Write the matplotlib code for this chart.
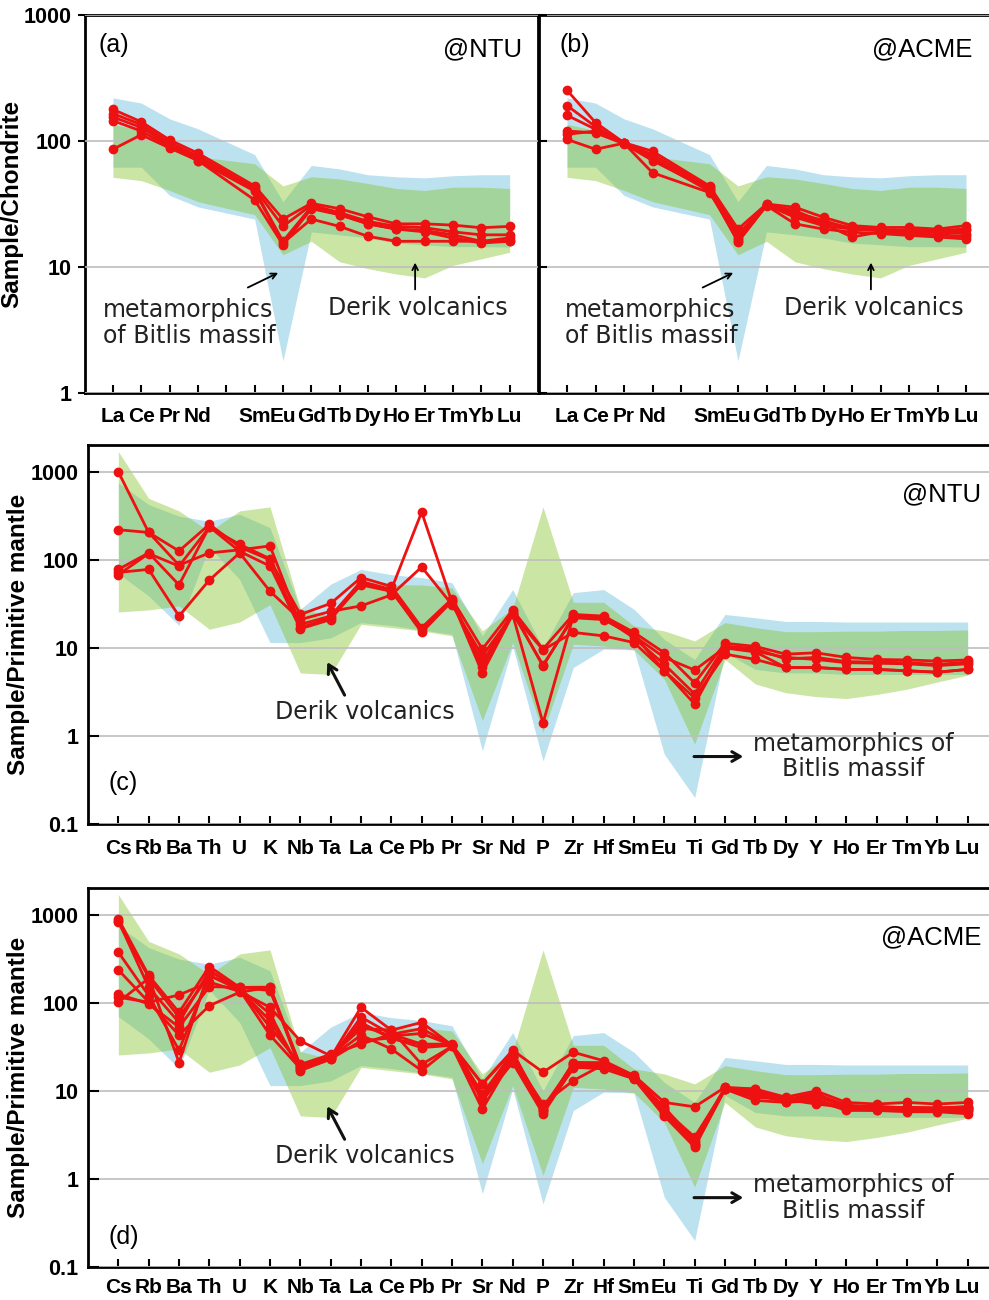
import numpy as np
import matplotlib
matplotlib.use('Agg')
import matplotlib.pyplot as plt
from matplotlib.ticker import FixedLocator, FixedFormatter, NullLocator

plt.rcParams['font.family'] = ['Liberation Sans', 'DejaVu Sans']

# --- REE (chondrite normalised) ---
ree = ['La', 'Ce', 'Pr', 'Nd', 'Pm', 'Sm', 'Eu', 'Gd', 'Tb', 'Dy', 'Ho', 'Er', 'Tm', 'Yb', 'Lu']
ree_labels = ['La', 'Ce', 'Pr', 'Nd', '', 'Sm', 'Eu', 'Gd', 'Tb', 'Dy', 'Ho', 'Er', 'Tm', 'Yb', 'Lu']
ree_used = ['La', 'Ce', 'Pr', 'Nd', 'Sm', 'Eu', 'Gd', 'Tb', 'Dy', 'Ho', 'Er', 'Tm', 'Yb', 'Lu']

bitlis_ree_hi = [220, 200, 150, 125, 78, 33, 64, 60, 54, 52, 51, 53, 54, 54]
bitlis_ree_lo = [62, 62, 37, 30, 24, 1.8, 19, 18, 17, 15.5, 15, 14.5, 14.5, 14.4]
derik_ree_hi = [136, 121, 91, 75, 66, 44, 52, 50, 46, 42, 40.5, 43, 43, 42]
derik_ree_lo = [51.5, 48.5, 40.5, 33, 26, 12.5, 16, 11, 9.7, 8.8, 8.2, 10.3, 11.6, 13.1]

ntu_ree = [
    [178, 142, 102, 80, 44, 24, 32, 29, 25, 22, 22, 21.5, 20.5, 21],
    [165, 135, 97, 76, 42, 21, 31, 27, 23, 21, 20.5, 19, 18, 18],
    [155, 128, 93, 73, 41, 16, 30, 26, 22, 20, 19.5, 18, 16, 17],
    [145, 120, 90, 70, 34, 15, 29, 26, 22, 20, 19, 17, 15.5, 16],
    [86, 112, 88, 70, 40, 15.5, 24, 21, 17.5, 16, 16, 16, 16, 16],
]
acme_ree = [
    [253, 140, 97, 83, 44, 20, 31.6, 29.8, 24.8, 21.3, 20.6, 20.6, 20, 21.3],
    [191, 130, 96, 78, 43, 18.3, 31, 27, 23.4, 20, 19.5, 19.5, 19, 19.5],
    [160, 124, 96, 74, 41.5, 16.7, 31, 24.8, 21.3, 20, 19.5, 19, 18.9, 18.4],
    [120, 116, 95, 70, 41, 15.8, 30.7, 22, 20, 18.9, 18.4, 17.8, 17.3, 16.7],
    [113, 120, 96, 72, 40, 16, 31, 26, 22, 17.3, 19, 18.5, 18, 17.5],
    [103, 86, 96, 56, 39, 17, 31.5, 28, 22.5, 20.5, 19.8, 19.5, 19.5, 20],
]

# --- Spider (primitive mantle normalised) ---
spider = ['Cs', 'Rb', 'Ba', 'Th', 'U', 'K', 'Nb', 'Ta', 'La', 'Ce', 'Pb', 'Pr', 'Sr', 'Nd', 'P',
          'Zr', 'Hf', 'Sm', 'Eu', 'Ti', 'Gd', 'Tb', 'Dy', 'Y', 'Ho', 'Er', 'Tm', 'Yb', 'Lu']

bitlis_pm_hi = [750, 425, 314, 275, 330, 232, 27.5, 53, 78, 68, 63, 55, 13.7, 46, 10,
                42.5, 46, 27.5, 12.5, 7.4, 24, 22, 20, 20, 19.7, 19.7, 19.7, 19.7, 19.7]
bitlis_pm_lo = [70, 39, 18, 140, 60, 11.5, 11.5, 13, 19.4, 18, 16, 14.3, 0.68, 10.5, 0.52,
                6.0, 9.7, 9.5, 0.62, 0.2, 8.9, 5.7, 5.2, 5.2, 5.0, 5.0, 5.0, 5.0, 5.0]
derik_pm_hi = [1700, 500, 360, 210, 360, 400, 28, 23, 57, 52, 52, 48, 15.6, 28, 400,
               33, 33, 17.8, 15.6, 12, 19.4, 17, 15.3, 15.3, 15.5, 15.5, 15.8, 15.8, 16]
derik_pm_lo = [25.6, 27, 30, 16.3, 19.7, 31, 5.2, 5.0, 18.5, 17, 15.6, 13.7, 1.49, 11.5, 1.1,
               11, 10.5, 9.5, 4.4, 0.81, 7.4, 3.9, 3.1, 2.8, 2.66, 2.96, 3.4, 4.1, 4.9]

ntu_pm = [
    [1000, 205, 126, 253, 140, 100, 24, 32, 63, 50, 17, 36, 9.7, 27, 9.7,
     24, 23, 15, 8.8, 4.0, 11.3, 10.4, 8.5, 8.8, 7.8, 7.4, 7.3, 7.1, 7.3],
    [220, 205, 87, 120, 130, 144, 18.5, 23, 57, 46, 349, 33, 6.8, 25, 6.4,
     22, 21, 13.7, 7.8, 5.6, 10.1, 9.2, 7.8, 7.4, 6.8, 6.7, 6.6, 6.3, 6.6],
    [78, 120, 52, 238, 125, 85, 16.5, 21, 55, 45, 15, 34, 5.2, 24, 1.4,
     23, 22, 14, 5.5, 2.3, 10, 9, 6.0, 6.0, 5.7, 5.7, 5.5, 5.3, 5.7],
    [72, 78, 23, 59, 120, 44, 21, 26, 30, 40, 83, 31, 8.1, 24, 9.5,
     15, 13.7, 11.5, 5.5, 2.7, 8.5, 7.4, 6.0, 6.0, 5.7, 5.7, 5.5, 5.3, 5.7],
    [68, 118, 85, 235, 150, 103, 17, 22, 52, 44, 16, 35, 6.0, 26, 6.2,
     23, 22, 13, 6.5, 3.0, 10.5, 9.8, 7.5, 7.8, 7.0, 6.9, 6.8, 6.5, 6.9],
]
acme_pm = [
    [900, 205, 78, 259, 150, 151, 19.4, 24, 89, 49, 60, 33, 12, 29, 16.3,
     27.5, 22, 15, 7.4, 6.6, 11, 10.5, 8.5, 10, 7.4, 7.1, 7.4, 7.1, 7.4],
    [826, 195, 21, 233, 145, 75, 17, 23, 69, 44, 51, 33, 9.2, 24, 6.0,
     21, 20.3, 14, 6.0, 2.5, 10.5, 9.2, 7.4, 8.9, 6.5, 6.5, 6.5, 6.4, 6.6],
    [377, 121, 29, 205, 140, 63, 18, 25, 60, 39, 34, 34, 7.8, 21, 5.5,
     18.6, 17.8, 13.7, 5.2, 2.3, 10.5, 7.8, 7.4, 7.8, 6.0, 6.0, 5.8, 5.8, 5.5],
    [237, 102, 123, 172, 135, 89, 37, 25, 51, 49, 20, 32, 6.2, 24, 7.1,
     13.1, 20, 14, 6.0, 3.0, 10.5, 8.5, 8.0, 7.1, 6.5, 6.5, 6.5, 6.4, 6.6],
    [126, 97.5, 53, 153, 150, 138, 19, 24, 43, 30, 17, 32, 7.8, 24, 6.0,
     18, 20, 14, 5.5, 2.4, 10.5, 9.0, 7.8, 8.5, 6.8, 6.7, 6.4, 6.2, 6.4],
    [116, 102, 43, 93, 132, 151, 17.5, 23, 37, 40, 31, 33, 9.2, 27, 6.5,
     20, 19, 14.5, 6.5, 2.6, 11, 9.5, 7.6, 8.0, 6.2, 6.2, 6.2, 6.0, 6.1],
    [102, 190, 69, 205, 145, 53, 20, 26, 34, 44, 34, 33, 12, 28, 5.8,
     21, 21, 14, 6.4, 2.8, 10.8, 9.8, 7.6, 9.2, 6.9, 6.4, 6.2, 6.1, 6.2],
    [860, 150, 60, 233, 140, 43, 18, 24, 55, 42, 45, 33, 8.5, 25, 6.2,
     19.5, 20, 14.2, 5.8, 2.4, 10.7, 10.5, 7.9, 9.5, 6.3, 6.0, 6.0, 6.0, 5.9],
]

BLUE = '#bde2ef'
GREEN = (125 / 255, 192 / 255, 30 / 255, 0.4)
RED = '#ee1111'
GRID = '#bdbdbd'

W, H = 989, 1300
fig = plt.figure(figsize=(W / 100, H / 100), dpi=100)


def rect(left, top, right, bottom):
    return [left / W, 1 - bottom / H, (right - left) / W, (bottom - top) / H]


def draw_panel(ax, x, bands, samples, names, labels, ylim, yticks, ytlabels):
    b_lo, b_hi, g_lo, g_hi = bands
    ax.fill_between(x, b_lo, b_hi, color=BLUE, lw=0, zorder=1)
    ax.fill_between(x, g_lo, g_hi, color=GREEN, lw=0, zorder=1.2)
    for s in samples:
        ax.plot(x, s, color=RED, lw=2.0, marker='o', ms=6, zorder=3)
    ax.set_yscale('log')
    ax.set_ylim(*ylim)
    ax.set_xlim(-1, len(names))
    ax.yaxis.set_major_locator(FixedLocator(yticks))
    ax.yaxis.set_major_formatter(FixedFormatter(ytlabels))
    ax.yaxis.set_minor_locator(NullLocator())
    ax.set_xticks(range(len(names)))
    ax.set_xticklabels(labels, fontweight='bold', fontsize=15)
    ax.set_axisbelow(False)
    ax.grid(axis='y', color=GRID, lw=1.2)
    ax.grid(axis='x', visible=False)
    for sp in ax.spines.values():
        sp.set_linewidth(2)
    for t in ax.get_yticklabels():
        t.set_fontweight('bold')
        t.set_fontsize(15.5)


ree_x = [ree.index(e) for e in ree_used]
ree_bands = (bitlis_ree_lo, bitlis_ree_hi, derik_ree_lo, derik_ree_hi)
pm_x = list(range(len(spider)))
pm_bands = (bitlis_pm_lo, bitlis_pm_hi, derik_pm_lo, derik_pm_hi)

ax_a = fig.add_axes(rect(84.6, 15, 538, 393))
ax_b = fig.add_axes(rect(538.5, 15, 994.5, 393))
ax_c = fig.add_axes(rect(88, 445, 998, 824))
ax_d = fig.add_axes(rect(88, 888, 998, 1267))

for ax, data in [(ax_a, ntu_ree), (ax_b, acme_ree)]:
    draw_panel(ax, ree_x, ree_bands, data, ree, ree_labels, (1, 1000),
               [1, 10, 100, 1000], ['1', '10', '100', '1000'])
    ax.tick_params(axis='x', direction='in', length=6, width=1.5, pad=10)
ax_a.tick_params(axis='y', direction='out', length=5, width=1.5, pad=4)
ax_b.tick_params(axis='y', direction='in', length=6, width=1.5, labelleft=False)
ax_a.set_ylabel('Sample/Chondrite', fontsize=17.5, fontweight='bold')
ax_a.yaxis.set_label_coords(-0.135, 0.5)

for ax, data in [(ax_c, ntu_pm), (ax_d, acme_pm)]:
    draw_panel(ax, pm_x, pm_bands, data, spider, spider, (0.1, 10 ** 3.305),
               [0.1, 1, 10, 100, 1000], ['0.1', '1', '10', '100', '1000'])
    ax.tick_params(axis='y', direction='in', length=8, width=1.5, pad=7)
    ax.set_ylabel('Sample/Primitive mantle', fontsize=17.5, fontweight='bold')
    ax.yaxis.set_label_coords(-0.064, 0.5)
ax_c.tick_params(axis='x', direction='in', length=6, width=1.5, pad=11)
ax_d.tick_params(axis='x', direction='in', length=6, width=1.5, pad=8)

note = dict(fontsize=17, family='DejaVu Sans', color='#222222')
thin = dict(arrowstyle='->', color='k', lw=1.3, shrinkA=0, shrinkB=0)
thick = dict(arrowstyle='->,head_length=0.6,head_width=0.35', color='#111111', lw=2.2,
             shrinkA=0, shrinkB=0)

# (a) and (b)
for ax, tag, lab, x0 in [(ax_a, '(a)', '@NTU', 0.030), (ax_b, '(b)', '@ACME', 0.047)]:
    ax.text(x0, 0.92, tag, transform=ax.transAxes, fontsize=18, va='center', ha='left')
    r = 0.965 if ax is ax_a else 0.951
    ax.text(r, 0.908, lab, transform=ax.transAxes, fontsize=18.5, va='center', ha='right')
    ax.text(x0 + 0.011, 0.185, 'metamorphics\nof Bitlis massif', transform=ax.transAxes,
            ha='left', va='center', linespacing=1.15, **note)
    ax.text(0.735, 0.225, 'Derik volcanics', transform=ax.transAxes,
            ha='center', va='center', **note)
    ax.annotate('', xy=(0.427, 0.318), xytext=(0.360, 0.279), xycoords='axes fraction',
                arrowprops=thin)
    ax.annotate('', xy=(0.729, 0.345), xytext=(0.729, 0.274), xycoords='axes fraction',
                arrowprops=thin)

# (c) and (d)
for ax, tag, lab, ty, dy in [(ax_c, '(c)', '@NTU', 0.108, 0.296), (ax_d, '(d)', '@ACME', 0.079, 0.293)]:
    ax.text(0.022, ty, tag, transform=ax.transAxes, fontsize=18, va='center', ha='left')
    ax.text(0.982, 0.871, lab, transform=ax.transAxes, fontsize=18.5, va='center', ha='right')
    ax.text(0.304, dy, 'Derik volcanics', transform=ax.transAxes,
            ha='center', va='center', **note)
    ax.annotate('', xy=(0.263, dy + 0.131), xytext=(0.282, dy + 0.044),
                xycoords='axes fraction', arrowprops=thick)
    my = 0.178 if ax is ax_c else 0.183
    ax.text(0.841, my, 'metamorphics of\nBitlis massif', transform=ax.transAxes,
            ha='center', va='center', linespacing=1.1, **note)
    ax.annotate('', xy=(0.720, my), xytext=(0.666, my), xycoords='axes fraction',
                arrowprops=thick)

fig.savefig('out.png', dpi=100)
